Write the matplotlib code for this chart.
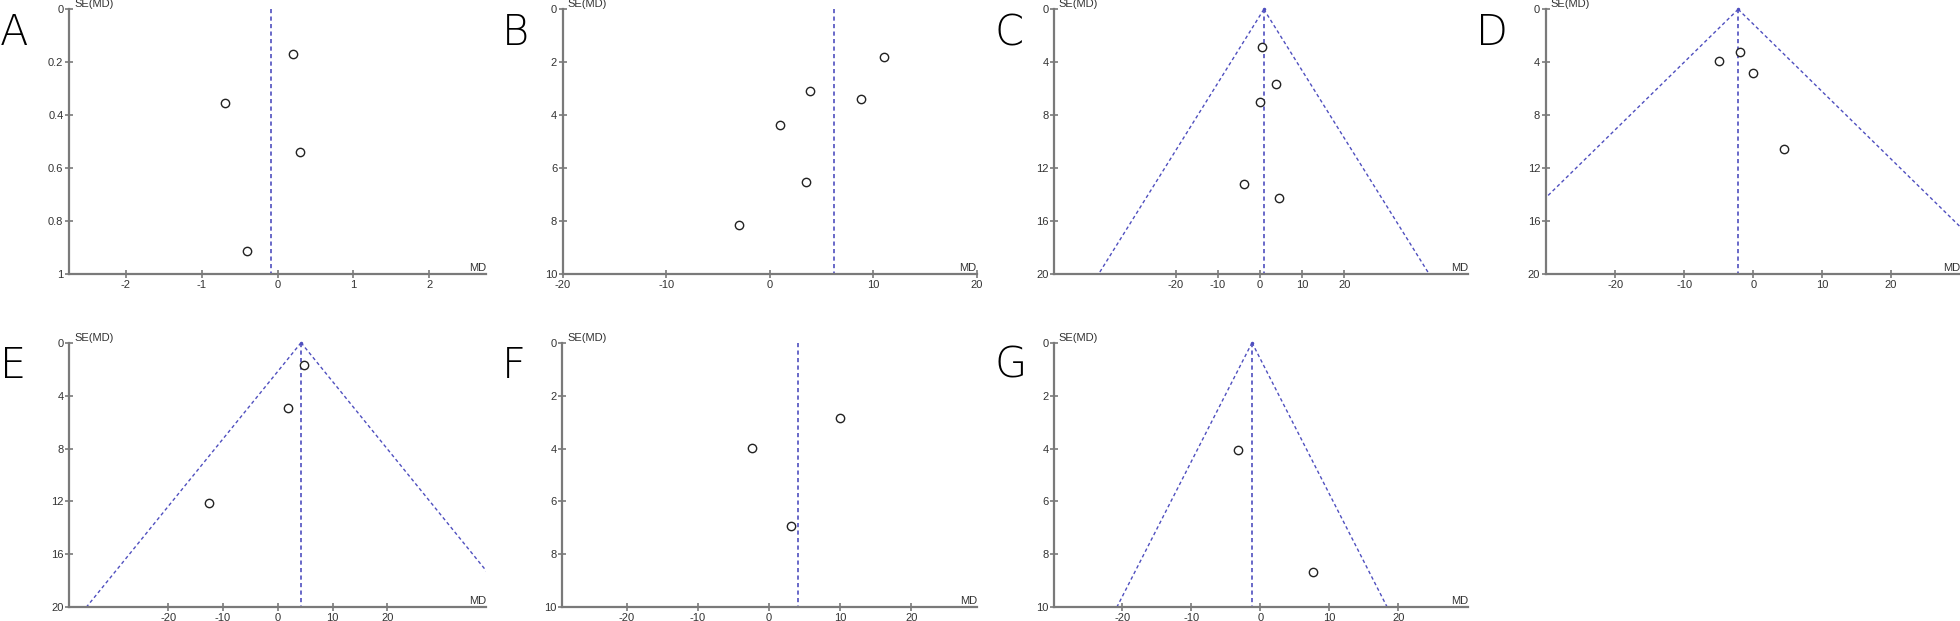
import numpy as np
import matplotlib
matplotlib.use("Agg")
import matplotlib.pyplot as plt

plt.rcParams["font.family"] = ["Liberation Sans", "DejaVu Sans"]

# MD and SE(MD)
a_md = [0.20, -0.69, 0.30, -0.40]
a_se = [0.17, 0.353, 0.538, 0.912]
a_pool = -0.09

b_md = [11.07, 3.94, 8.84, 1.03, 3.48, -3.0]
b_se = [1.79, 3.10, 3.39, 4.38, 6.54, 8.16]
b_pool = 6.22

c_md = [0.40, 3.64, -0.07, -3.79, 4.43]
c_se = [2.85, 5.62, 7.0, 13.2, 14.28]
c_pool = 0.88

d_md = [-4.93, -1.98, 0.0, 4.45]
d_se = [3.93, 3.25, 4.84, 10.53]
d_pool = -2.18

e_md = [4.74, 1.88, -12.48]
e_se = [1.69, 4.96, 12.09]
e_pool = 4.25

f_md = [10.02, -2.39, 3.09]
f_se = [2.83, 3.98, 6.93]
f_pool = 4.03

g_md = [-3.23, 7.59]
g_se = [4.07, 8.67]
g_pool = -1.2

W, H = 1960, 621
fig = plt.figure(figsize=(W / 100, H / 100), dpi=100)

blue = "#4f4fbf"
axcol = "#7a7a7a"


def panel(letter, box, md, se, pool, xlim, xticks, ymax, yticks, funnel, letter_xy):
    x0, x1, y0, y1 = box
    ax = fig.add_axes([x0 / W, 1 - y1 / H, (x1 - x0) / W, (y1 - y0) / H])
    ax.set_xlim(*xlim)
    ax.set_ylim(ymax, 0)
    for s in ["top", "right"]:
        ax.spines[s].set_visible(False)
    for s in ["left", "bottom"]:
        ax.spines[s].set_color(axcol)
        ax.spines[s].set_linewidth(1.6)
    ax.set_xticks(xticks)
    ax.set_yticks(yticks)
    ax.set_xticklabels(["%g" % t for t in xticks])
    ax.set_yticklabels(["%g" % t for t in yticks])
    ax.tick_params(direction="inout", length=6, width=1.2, color=axcol,
                   labelsize=8, labelcolor="#333333", pad=1)
    if funnel:
        s = np.array([0, ymax * 1.2])
        ax.plot(pool - 1.96 * s, s, ls=(0, (2.5, 2)), color=blue, lw=1)
        ax.plot(pool + 1.96 * s, s, ls=(0, (2.5, 2)), color=blue, lw=1)
        ax.plot([pool], [0], marker="o", ms=1.5, color=blue, clip_on=False)
    ax.plot([pool, pool], [0, ymax], ls=(0, (2.5, 2)), color=blue, lw=1.2)
    ax.plot(md, se, "o", ms=6, mfc="white", mec="#222222", mew=1, ls="none")
    ax.text(0.012, 1.0, "SE(MD)", transform=ax.transAxes, fontsize=8,
            color="#333333", va="bottom", ha="left")
    ax.text(1.0, 0.005, "MD", transform=ax.transAxes, fontsize=8,
            color="#333333", va="bottom", ha="right")
    fig.text(letter_xy[0] / W, 1 - letter_xy[1] / H, letter, fontsize=30,
             family=["DejaVu Sans"], fontweight="light", va="top", ha="left")
    return ax


t20 = [-20, -10, 0, 10, 20]
panel("A", (69, 486, 9.3, 274), a_md, a_se, a_pool, (-2.75, 2.75), [-2, -1, 0, 1, 2],
      1, [0, 0.2, 0.4, 0.6, 0.8, 1], False, (0, 12))
panel("B", (562.7, 976.5, 9.3, 274), b_md, b_se, b_pool, (-20, 20), t20,
      10, [0, 2, 4, 6, 8, 10], False, (502, 12))
panel("C", (1054, 1468, 9.3, 274), c_md, c_se, c_pool, (-48.9, 49.3), t20,
      20, [0, 4, 8, 12, 16, 20], True, (994, 12))
panel("D", (1545.7, 1960, 9.3, 274), d_md, d_se, d_pool, (-30.1, 30.0), t20,
      20, [0, 4, 8, 12, 16, 20], True, (1476, 12))
panel("E", (69, 486, 342.7, 607.3), e_md, e_se, e_pool, (-38.1, 38.0), t20,
      20, [0, 4, 8, 12, 16, 20], True, (0, 345))
panel("F", (562.3, 977.3, 342.7, 607.3), f_md, f_se, f_pool, (-29.05, 29.3), t20,
      10, [0, 2, 4, 6, 8, 10], False, (502, 345))
panel("G", (1054, 1468, 342.7, 607.3), g_md, g_se, g_pool, (-29.9, 30.1), t20,
      10, [0, 2, 4, 6, 8, 10], True, (994, 345))

fig.savefig("out.png", dpi=100)
